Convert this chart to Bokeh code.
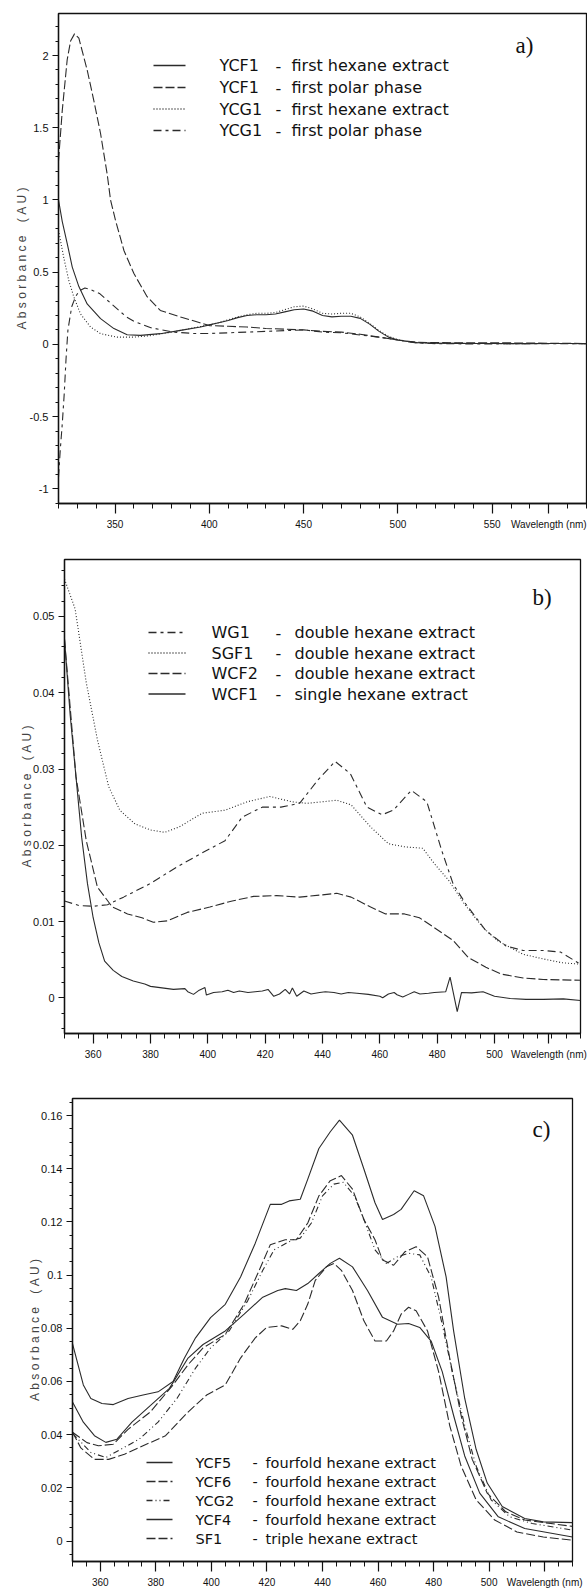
import numpy as np
from bokeh.plotting import figure
from bokeh.layouts import column
from bokeh.models import FixedTicker, Label, Range1d
from bokeh.embed import file_html
from bokeh.resources import INLINE

# ---------------- data: panel a) ----------------
a_names = ["YCF1", "YCF1", "YCG1", "YCG1"]
a_desc = ["first hexane extract", "first polar phase", "first hexane extract", "first polar phase"]

a_ycf1_hex_x = [320, 322, 324.6, 327.3, 330.8, 335.2, 342.3, 349.4, 356.4, 363.5, 374, 384.7, 395.3, 400,
                405, 410, 415, 420, 425, 430, 435, 440, 445, 450, 455, 460, 465, 470, 475, 480, 485, 490,
                495, 500, 505, 510, 520, 530, 540, 550, 560, 570, 580, 590, 600]
a_ycf1_hex_y = [1.0, 0.85, 0.70, 0.535, 0.40, 0.28, 0.178, 0.109, 0.067, 0.062, 0.074, 0.097, 0.12, 0.135,
                0.15, 0.165, 0.185, 0.2, 0.205, 0.205, 0.21, 0.225, 0.24, 0.245, 0.23, 0.2, 0.19, 0.195,
                0.195, 0.18, 0.14, 0.09, 0.05, 0.03, 0.02, 0.012, 0.008, 0.007, 0.006, 0.006, 0.005, 0.005,
                0.006, 0.006, 0.005]

a_ycf1_pol_x = [320, 322, 324.6, 326.4, 328.5, 330.8, 335.2, 338.7, 342.3, 345.8, 347.6, 350.2, 354.7, 360,
                367, 374, 384.7, 395, 400, 410, 420, 430, 440, 450, 460, 470, 480, 490, 500, 510, 520, 540,
                560, 580, 600]
a_ycf1_pol_y = [1.27, 1.62, 1.97, 2.1, 2.15, 2.12, 1.90, 1.69, 1.46, 1.18, 1.0, 0.86, 0.65, 0.49,
                0.33, 0.235, 0.19, 0.15, 0.13, 0.125, 0.12, 0.11, 0.105, 0.1, 0.09, 0.085, 0.07, 0.05, 0.03,
                0.015, 0.012, 0.01, 0.01, 0.008, 0.006]

a_ycg1_hex_x = [320, 322.8, 325.5, 328.1, 331.7, 337, 342.3, 351, 360, 368.6, 380, 390, 400, 405, 410, 415,
                420, 425, 430, 435, 440, 445, 450, 455, 460, 465, 470, 475, 480, 485, 490, 495, 500, 505,
                510, 520, 540, 560, 580, 600]
a_ycg1_hex_y = [0.79, 0.60, 0.44, 0.33, 0.21, 0.12, 0.074, 0.05, 0.05, 0.06, 0.085, 0.11, 0.135, 0.15,
                0.17, 0.19, 0.205, 0.215, 0.215, 0.22, 0.24, 0.26, 0.265, 0.245, 0.215, 0.21, 0.215, 0.215,
                0.19, 0.145, 0.095, 0.055, 0.032, 0.02, 0.012, 0.008, 0.006, 0.005, 0.006, 0.005]

a_ycg1_pol_x = [320, 321, 322, 323, 324, 325, 327, 329, 331, 334, 337, 342, 349, 356, 360, 369, 381, 392,
                400, 410, 420, 430, 440, 450, 460, 470, 480, 490, 500, 510, 520, 540, 560, 580, 600]
a_ycg1_pol_y = [-0.92, -0.72, -0.55, -0.35, -0.1, 0.1, 0.26, 0.33, 0.37, 0.39, 0.38, 0.35, 0.27, 0.19,
                0.16, 0.115, 0.085, 0.075, 0.075, 0.08, 0.085, 0.09, 0.095, 0.1, 0.085, 0.08, 0.065, 0.05,
                0.03, 0.01, 0.005, 0.003, 0.004, 0.005, 0.004]

a_xticks = [350, 400, 450, 500, 550]
a_xlabels = ["350", "400", "450", "500", "550"]
a_yticks = [-1, -0.5, 0, 0.5, 1, 1.5, 2]
a_ylabels = ["-1", "-0.5", "0", "0.5", "1", "1.5", "2"]

# ---------------- data: panel b) ----------------
b_names = ["WG1", "SGF1", "WCF2", "WCF1"]
b_desc = ["double hexane extract", "double hexane extract", "double hexane extract", "single hexane extract"]

b_wg1_x = [350, 355, 360, 365, 370.6, 380, 389, 398, 406, 412, 419, 425.5, 432, 438.5, 444.4, 449.7,
           455.5, 460.8, 464.7, 471, 476.4, 481.6, 485.6, 490, 497, 504, 510, 517, 523, 530]
b_wg1_y = [0.0127, 0.0121, 0.012, 0.0122, 0.0132, 0.015, 0.0171, 0.019, 0.0206, 0.0237, 0.025, 0.025,
           0.0255, 0.0286, 0.031, 0.0294, 0.025, 0.024, 0.0246, 0.0272, 0.0257, 0.0193, 0.0149, 0.0123,
           0.0088, 0.0068, 0.0062, 0.0062, 0.006, 0.0044]

b_sgf1_x = [350, 353.7, 357.6, 361.5, 365.4, 369.3, 374.6, 380, 385, 390, 398, 406, 413.7, 421.6, 429.4,
            434.6, 445, 450, 456.8, 463, 468.6, 475, 479, 484, 489.5, 496, 501, 510, 517, 523.5, 530]
b_sgf1_y = [0.0549, 0.051, 0.0413, 0.0338, 0.0277, 0.0246, 0.0228, 0.022, 0.0217, 0.0224, 0.0242, 0.0246,
            0.0257, 0.0264, 0.0257, 0.0255, 0.0259, 0.0253, 0.0224, 0.0202, 0.0198, 0.0196, 0.0176, 0.0154,
            0.0123, 0.0092, 0.0075, 0.0057, 0.0051, 0.0046, 0.0044]

b_wcf2_x = [350, 352, 354, 357.6, 361.5, 366.7, 372, 377, 381, 386, 392.8, 400.7, 408.5, 416, 424, 432,
            440, 445, 450, 456.8, 462, 468.6, 473.8, 479, 485.6, 490.8, 497, 502.5, 510, 517, 530]
b_wcf2_y = [0.047, 0.038, 0.029, 0.0206, 0.0145, 0.0119, 0.011, 0.0105, 0.0099, 0.0101, 0.0112, 0.0119,
            0.0127, 0.0133, 0.0134, 0.0132, 0.0135, 0.0137, 0.0132, 0.0119, 0.011, 0.011, 0.0105, 0.0092,
            0.0075, 0.0053, 0.004, 0.0031, 0.0026, 0.0024, 0.0023]

b_wcf1_x = [350, 352, 354, 356, 358, 360, 362, 364, 367, 370, 374, 378, 380, 384, 388, 392, 393, 395, 397,
            399, 399.5, 402, 405, 407, 409, 411, 414, 416.5, 419, 421, 423, 425, 427, 428.5, 429.5, 431,
            433.5, 436, 439, 441, 444, 446.5, 449, 452, 456, 460, 461, 463, 465, 466, 468, 470, 472, 474,
            477, 479, 483, 484.5, 487, 488.5, 492, 496, 500, 505.5, 511, 517, 524, 530]
b_wcf1_y = [0.047, 0.037, 0.029, 0.021, 0.015, 0.0105, 0.0072, 0.0048, 0.0036, 0.0028, 0.0022, 0.0018,
            0.0015, 0.0013, 0.0011, 0.0012, 0.0008, 0.00045, 0.001, 0.00135, 0.00036, 0.0007, 0.0008,
            0.001, 0.0007, 0.0009, 0.0007, 0.0008, 0.0009, 0.0011, 0.0002, 0.0005, 0.0011, 0.0005, 0.0013,
            0.0002, 0.0009, 0.0005, 0.0007, 0.0008, 0.0007, 0.0005, 0.0007, 0.0006, 0.00045, 0.0002, 0.0,
            0.0005, 0.0007, 0.0004, 0.0001, 0.00045, 0.0008, 0.0005, 0.0006, 0.0007, 0.0008, 0.0027,
            -0.0018, 0.0007, 0.00065, 0.0008, 0.0002, -0.0001, -0.0002, -0.0002, -0.00014, -0.00036]

bc_xticks = [360, 380, 400, 420, 440, 460, 480, 500]
bc_xlabels = ["360", "380", "400", "420", "440", "460", "480", "500"]
b_yticks = [0, 0.01, 0.02, 0.03, 0.04, 0.05]
b_ylabels = ["0", "0.01", "0.02", "0.03", "0.04", "0.05"]

# ---------------- data: panel c) ----------------
c_names = ["YCF5", "YCF6", "YCG2", "YCF4", "SF1"]
c_desc = ["fourfold hexane extract", "fourfold hexane extract", "fourfold hexane extract",
          "fourfold hexane extract", "triple hexane extract"]

c_ycf5_x = [350, 353.9, 356.6, 360.6, 364.7, 370, 375.4, 380.8, 386.2, 390.3, 394.3, 399.7, 405, 410.5,
            415.8, 421.2, 425.3, 428, 432, 434.7, 438.7, 442.8, 446.1, 450.8, 454.9, 458.9, 461.6, 465.6,
            468.3, 473, 476.4, 480.5, 484.5, 487.2, 491.2, 495.3, 499.3, 504.7, 512.8, 519.5, 530]
c_ycf5_y = [0.0742, 0.0587, 0.0536, 0.0517, 0.0513, 0.0536, 0.0549, 0.0561, 0.06, 0.0688, 0.0764, 0.084,
            0.089, 0.0993, 0.112, 0.1266, 0.1266, 0.1279, 0.1285, 0.1361, 0.1476, 0.1539, 0.1583, 0.1526,
            0.1399, 0.1272, 0.1209, 0.1228, 0.1247, 0.1317, 0.1298, 0.1183, 0.0993, 0.079, 0.0536, 0.0345,
            0.0218, 0.013, 0.0085, 0.0072, 0.0069]

c_ycf6_x = [350, 355.2, 359.3, 364.7, 370, 378, 386.2, 391.6, 397, 405, 411.8, 417.2, 421.2, 426.6, 430.6,
            434.7, 438.7, 442.8, 446.8, 450.8, 454.9, 458.9, 461.6, 465.6, 469.7, 473.7, 477.8, 481.8,
            485.8, 489.9, 493.9, 499.3, 506, 512.8, 530]
c_ycf6_y = [0.0409, 0.037, 0.0358, 0.0364, 0.042, 0.0485, 0.0587, 0.0663, 0.0726, 0.0777, 0.0891, 0.1018,
            0.1114, 0.1133, 0.1133, 0.1196, 0.1298, 0.1355, 0.1374, 0.1323, 0.1209, 0.1133, 0.1057, 0.1037,
            0.1088, 0.1107, 0.1069, 0.0917, 0.0688, 0.0472, 0.0307, 0.018, 0.011, 0.0079, 0.0055]

c_ycg2_x = [350, 356.6, 362, 367.4, 374, 380.8, 387.6, 394.3, 399.7, 406.4, 413.1, 418.5, 422.6, 429.3,
            432, 436, 440, 444.1, 447.5, 451.5, 454.9, 458.9, 463, 467, 471, 475, 479.1, 483.1, 487.2,
            491.2, 495.3, 500.7, 507.4, 515.5, 530]
c_ycg2_y = [0.0405, 0.0333, 0.0314, 0.0345, 0.0383, 0.0447, 0.0536, 0.065, 0.0726, 0.079, 0.0904, 0.1018,
            0.1095, 0.1133, 0.1139, 0.1196, 0.1298, 0.1342, 0.1349, 0.1298, 0.1209, 0.1095, 0.1044, 0.1069,
            0.1082, 0.1076, 0.0993, 0.0815, 0.0612, 0.0434, 0.0282, 0.0155, 0.0091, 0.0066, 0.0041]

c_ycf4_x = [350, 353.9, 357.9, 362, 366, 371.4, 378.1, 384.9, 391.6, 397, 405, 411.8, 418.5, 423.9, 426.6,
            430.6, 434.7, 438.7, 442.8, 446.1, 450.8, 456.2, 461.6, 467, 471, 475, 479.1, 483.1, 487.2,
            491.2, 496.6, 503.3, 512.8, 530]
c_ycf4_y = [0.0523, 0.0447, 0.0396, 0.0371, 0.0383, 0.0447, 0.051, 0.0574, 0.0688, 0.0739, 0.079, 0.0853,
            0.0917, 0.0942, 0.0949, 0.0942, 0.0968, 0.1006, 0.1044, 0.1063, 0.1031, 0.0942, 0.0841, 0.0815,
            0.0818, 0.0803, 0.0752, 0.0637, 0.0472, 0.032, 0.018, 0.0091, 0.0047, 0.0015]

c_sf1_x = [350, 353, 357.9, 363, 368.7, 375.4, 383.5, 391.6, 398.3, 405, 410.5, 415.8, 419.9, 425.3, 429.3,
           432, 434.7, 437.4, 441.4, 444.1, 446.8, 450.8, 454.9, 458.9, 463, 465.6, 468.3, 471, 473.7,
           477.8, 481.8, 485.8, 489.9, 495.3, 502, 510, 519.5, 530]
c_sf1_y = [0.041, 0.035, 0.0307, 0.0307, 0.0326, 0.0358, 0.0396, 0.0485, 0.0549, 0.0587, 0.0688, 0.0764,
           0.0803, 0.0809, 0.0796, 0.0828, 0.0891, 0.098, 0.1031, 0.1044, 0.1018, 0.0942, 0.0828, 0.0752,
           0.0752, 0.079, 0.0853, 0.0879, 0.0866, 0.079, 0.0637, 0.0434, 0.0282, 0.0155, 0.0079, 0.0034,
           0.0015, 0.0003]

c_yticks = [0, 0.02, 0.04, 0.06, 0.08, 0.1, 0.12, 0.14, 0.16]
c_ylabels = ["0", "0.02", "0.04", "0.06", "0.08", "0.1", "0.12", "0.14", "0.16"]

x_title = "Wavelength (nm)"
y_title = "Absorbance (AU)"

# ---------------- styling ----------------
TICK_FONT = "Liberation Sans Narrow, Liberation Sans, sans-serif"
LEG_FONT = "DejaVu Sans"
LINE_COLOR = "#2b2b2b"
NB = "\u00a0"


def spaced(s):
    out = []
    for ch in s:
        out.append(NB + NB if ch == " " else ch)
    return NB.join(out)


SOLID = "solid"
LONGDASH = "9 3"
DOTTED = "1 2"
DASHDOT = "8 4 3 4"
DASHDOTDOT = "6 3 1 3 1 3"


def mapper(fx0, fx1, fy0, fy1, xr, yr):
    def X(px):
        return xr[0] + (px - fx0) / (fx1 - fx0) * (xr[1] - xr[0])

    def Y(py):
        return yr[1] - (py - fy0) / (fy1 - fy0) * (yr[1] - yr[0])
    return X, Y


def make_fig(xr, yr, fw, fh, bl, br, bt, bb):
    p = figure(frame_width=fw, frame_height=fh, x_range=Range1d(*xr), y_range=Range1d(*yr),
               output_backend="svg", toolbar_location=None,
               min_border_left=bl, min_border_right=br, min_border_top=bt, min_border_bottom=bb)
    if "frame_align" in p.properties():
        p.frame_align = False
    p.xgrid.visible = False
    p.ygrid.visible = False
    p.outline_line_color = "#111111"
    p.outline_line_width = 1.3
    p.outline_line_alpha = 1.0
    for ax in (p.xaxis[0], p.yaxis[0]):
        ax.axis_line_color = "#111111"
        ax.axis_line_width = 1.3
        ax.major_tick_line_color = "#111111"
        ax.minor_tick_line_color = "#111111"
        ax.major_tick_line_width = 1.2
        ax.minor_tick_line_width = 1.0
        ax.major_tick_in = 0
        ax.minor_tick_in = 0
        ax.major_label_text_font = TICK_FONT
        ax.major_label_text_color = "#111111"
    p.xaxis.major_label_text_font_size = "10px"
    p.yaxis.major_label_text_font_size = "11px"
    p.xaxis.major_tick_out = 10
    p.xaxis.minor_tick_out = 5
    p.xaxis.major_label_standoff = 5
    p.yaxis.major_tick_out = 6
    p.yaxis.minor_tick_out = 3
    p.yaxis.major_label_standoff = 4
    p.yaxis.axis_label = spaced(y_title)
    p.yaxis.axis_label_text_font = "Liberation Sans"
    p.yaxis.axis_label_text_font_style = "normal"
    p.yaxis.axis_label_text_font_size = "12px"
    p.yaxis.axis_label_text_color = "#444444"
    return p


def set_ticks(p, xt, xl, xminor, yt, yl, yminor):
    p.xaxis.ticker = FixedTicker(ticks=xt, minor_ticks=xminor)
    p.xaxis.major_label_overrides = {t: l for t, l in zip(xt, xl)}
    p.yaxis.ticker = FixedTicker(ticks=yt, minor_ticks=yminor)
    p.yaxis.major_label_overrides = {t: l for t, l in zip(yt, yl)}


def add_legend(p, X, Y, rows_y, names, descs, dashes, sx0, sx1, nx, dx, tx, size):
    for yy, nm, ds, dash in zip(rows_y, names, descs, dashes):
        p.line([X(sx0), X(sx1)], [Y(yy), Y(yy)], line_color=LINE_COLOR, line_width=1.3, line_dash=dash)
        for xx, txt in ((nx, nm), (dx, "-"), (tx, ds)):
            p.add_layout(Label(x=X(xx), y=Y(yy), text=txt, text_font=LEG_FONT, text_font_size=size,
                               text_baseline="middle", text_align="left", text_color="#111111"))


def add_text(p, x, y, txt, font, size, align="left"):
    p.add_layout(Label(x=x, y=y, text=txt, text_font=font, text_font_size=size,
                       text_baseline="middle", text_align=align, text_color="#111111"))


# ---------------- panel a ----------------
xa_r, ya_r = (320, 600), (-1.102, 2.291)
Xa, Ya = mapper(58, 586, 13, 503, xa_r, ya_r)
pa = make_fig(xa_r, ya_r, 528, 490, 58, 1, 13, 30)
set_ticks(pa, a_xticks + [580], a_xlabels + [x_title], list(range(320, 601, 10)),
          a_yticks, a_ylabels, [round(v, 2) for v in np.arange(-1.1, 2.31, 0.1)])
pa.yaxis.axis_label_standoff = -2
a_dashes = [SOLID, LONGDASH, DOTTED, DASHDOT]
for xs, ys, dash in ((a_ycf1_hex_x, a_ycf1_hex_y, SOLID), (a_ycf1_pol_x, a_ycf1_pol_y, LONGDASH),
                     (a_ycg1_hex_x, a_ycg1_hex_y, DOTTED), (a_ycg1_pol_x, a_ycg1_pol_y, DASHDOT)):
    pa.line(xs, ys, line_color=LINE_COLOR, line_width=1.1, line_dash=dash)
add_legend(pa, Xa, Ya, [65, 87, 108.5, 130], a_names, a_desc, a_dashes, 153, 185, 219, 275, 291, "16px")
add_text(pa, Xa(515), Ya(45), "a)", "Liberation Serif", "23px")

# ---------------- panel b ----------------
xb_r, yb_r = (350, 530), (-0.00468, 0.05747)
Xb, Yb = mapper(64, 580, 559, 1033, xb_r, yb_r)
pb = make_fig(xb_r, yb_r, 516, 474, 64, 7, 26, 30)
set_ticks(pb, bc_xticks + [519], bc_xlabels + [x_title], list(range(350, 531, 5)),
          b_yticks, b_ylabels, [round(v, 4) for v in np.arange(-0.004, 0.0575, 0.002)])
pb.yaxis.axis_label_standoff = -4
b_dashes = [DASHDOT, DOTTED, LONGDASH, SOLID]
for xs, ys, dash in ((b_wg1_x, b_wg1_y, DASHDOT), (b_sgf1_x, b_sgf1_y, DOTTED),
                     (b_wcf2_x, b_wcf2_y, LONGDASH), (b_wcf1_x, b_wcf1_y, SOLID)):
    pb.line(xs, ys, line_color=LINE_COLOR, line_width=1.1, line_dash=dash)
add_legend(pb, Xb, Yb, [632, 652.5, 673, 693.5], b_names, b_desc, b_dashes, 148, 185, 211, 275, 294, "16px")
add_text(pb, Xb(532), Yb(597), "b)", "Liberation Serif", "23px")

# ---------------- panel c ----------------
xc_r, yc_r = (350, 530), (-0.0077, 0.1664)
Xc, Yc = mapper(72, 572, 1098, 1561, xc_r, yc_r)
pc = make_fig(xc_r, yc_r, 500, 463, 72, 15, 35, 30)
set_ticks(pc, bc_xticks + [520], bc_xlabels + [x_title], list(range(350, 531, 5)),
          c_yticks, c_ylabels, [round(v, 3) for v in np.arange(-0.005, 0.166, 0.005)])
pc.yaxis.axis_label_standoff = -4
c_dashes = [SOLID, LONGDASH, DASHDOTDOT, SOLID, LONGDASH]
for xs, ys, dash in ((c_ycf5_x, c_ycf5_y, SOLID), (c_ycf6_x, c_ycf6_y, LONGDASH),
                     (c_ycg2_x, c_ycg2_y, DASHDOTDOT), (c_ycf4_x, c_ycf4_y, SOLID),
                     (c_sf1_x, c_sf1_y, LONGDASH)):
    pc.line(xs, ys, line_color=LINE_COLOR, line_width=1.1, line_dash=dash)
add_legend(pc, Xc, Yc, [1462, 1481, 1500, 1519, 1538], c_names, c_desc, c_dashes,
           146, 172, 195, 252, 265, "14.5px")
add_text(pc, Xc(532), Yc(1129), "c)", "Liberation Serif", "23px")

layout = column(pa, pb, pc)
open("out.html", "w").write(file_html(layout, INLINE))
